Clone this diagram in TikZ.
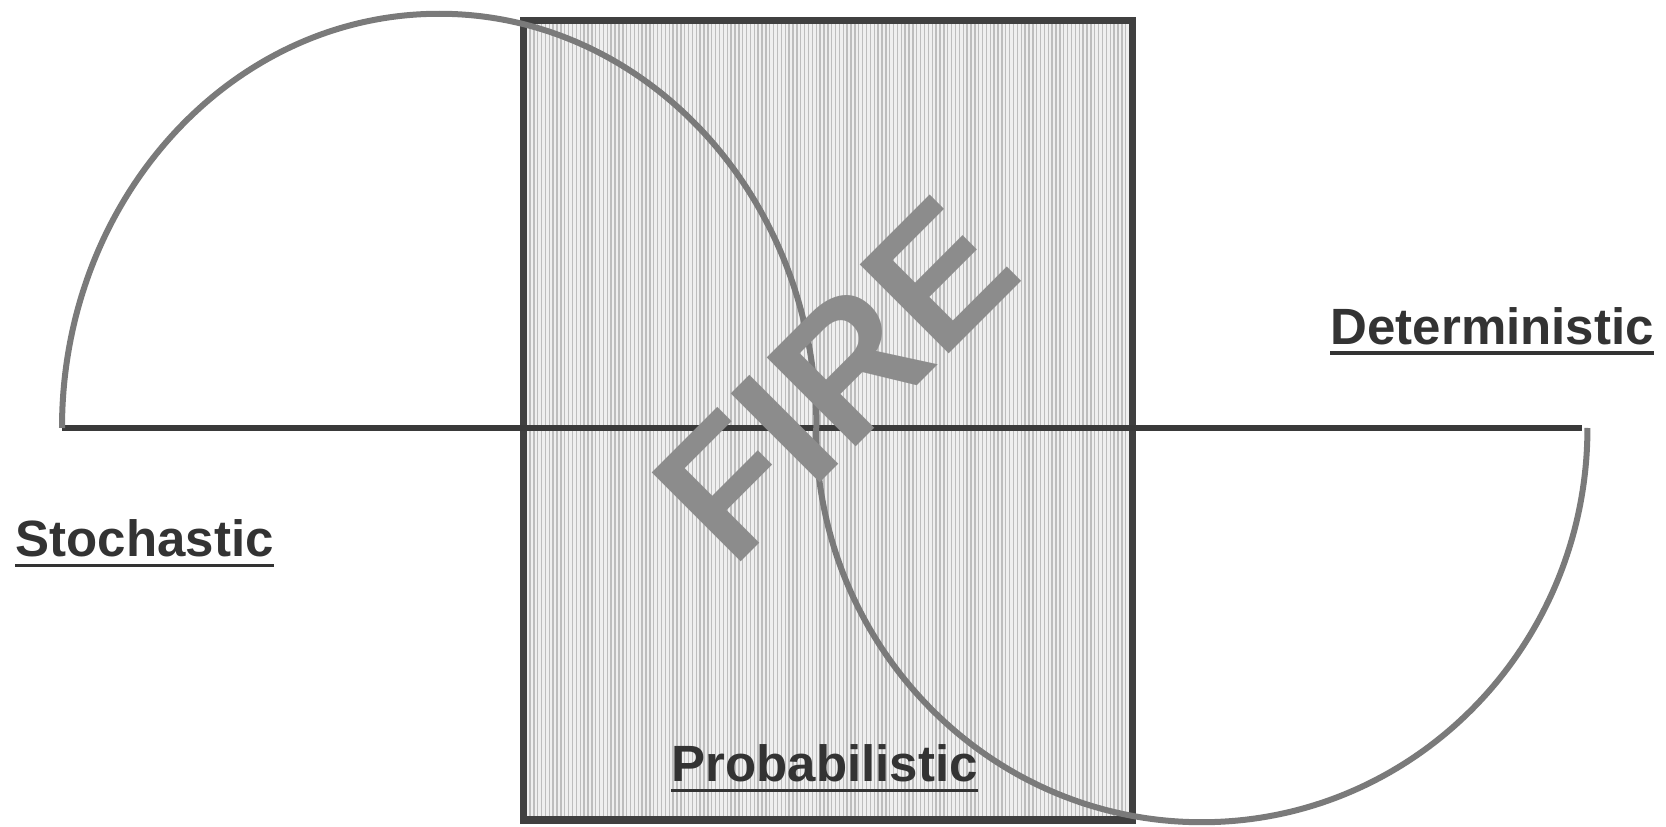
\documentclass[tikz,border=0pt]{standalone}
\usepackage{fontspec}
\setmainfont{Liberation Sans}
\usetikzlibrary{patterns.meta}
\definecolor{firegray}{HTML}{8C8C8C}
\definecolor{framegray}{HTML}{404040}
\definecolor{axisgray}{HTML}{3A3A3A}
\definecolor{curvegray}{HTML}{7A7A7A}
\definecolor{hatchbg}{HTML}{EFEFEF}
\definecolor{hatchline}{HTML}{BDBDBD}
\definecolor{labelgray}{HTML}{333333}
\tikzset{
  frame/.style={draw=framegray,line width=0.07cm},
  axis/.style={draw=axisgray,line width=0.055cm},
  curve/.style={draw=curvegray,line width=0.06cm},
  term/.style={inner sep=0pt,anchor=base west,text=labelgray,font=\fontsize{14.5}{17}\selectfont\bfseries},
  uline/.style={draw=labelgray,line width=0.03cm},
  firetext/.style={inner sep=0pt,text=firegray,rotate=45,font=\fontsize{52}{60}\selectfont\bfseries}
}
\begin{document}
\begin{tikzpicture}[x=0.01cm,y=0.01cm]
\fill[white] (0,0) rectangle (1666,827);
\fill[hatchbg,postaction={pattern={Lines[angle=90,distance=1.1pt,line width=0.4pt]},pattern color=hatchline}] (523,7) rectangle (1132,806);
\draw[frame] (523,7) rectangle (1132,806);
\coordinate (west) at (62,399);
\coordinate (mid) at (816,399);
\coordinate (east) at (1587,399);
\draw[axis] (west) -- ([xshift=-0.05cm]east);
\draw[curve] (west) arc[start angle=180,end angle=0,x radius=3.77cm,y radius=4.14cm];
\draw[curve] (mid) arc[start angle=180,end angle=360,x radius=3.855cm,y radius=3.94cm];
\node[firetext] (fire) at (835,448) {FIRE};
\node[term] (sto) at (15,270) {Stochastic};
\node[term] (det) at (1330,482) {Deterministic};
\node[term] (prob) at (671,45) {Probabilistic};
\draw[uline] ([yshift=-0.08cm]sto.base west) -- ([yshift=-0.08cm]sto.base east);
\draw[uline] ([yshift=-0.08cm]det.base west) -- ([yshift=-0.08cm]det.base east);
\draw[uline] ([yshift=-0.08cm]prob.base west) -- ([yshift=-0.08cm]prob.base east);
\end{tikzpicture}
\end{document}
